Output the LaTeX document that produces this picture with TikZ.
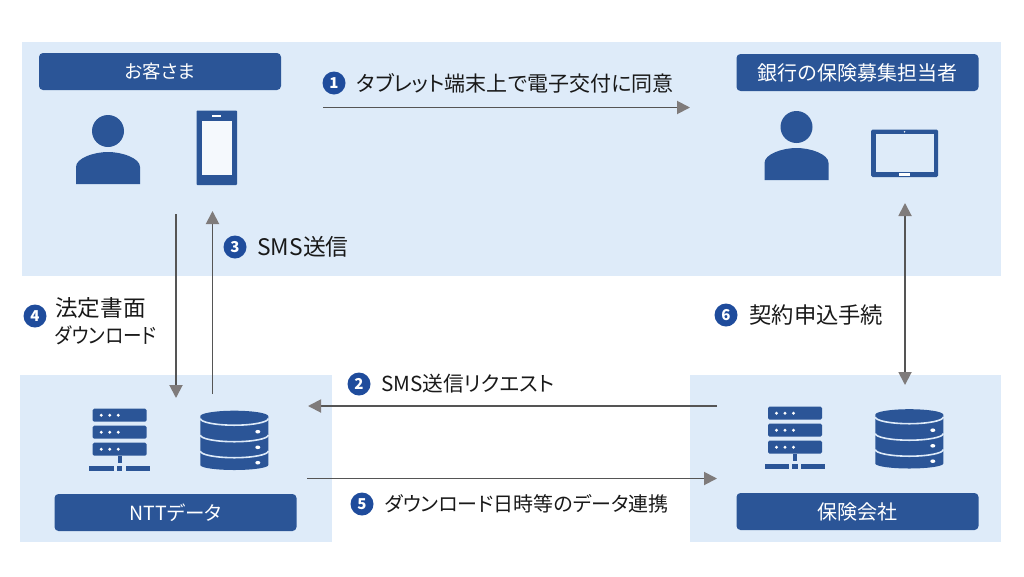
\documentclass[tikz,border=0pt]{standalone}
\usepackage{fontspec}
\setmainfont[RawFeature=+palt]{Noto Sans CJK JP}
\newfontfamily\narrowkana[RawFeature=+palt,FakeStretch=0.885]{Noto Sans CJK JP}
\usetikzlibrary{positioning,arrows.meta}
\definecolor{panelblue}{HTML}{DEEBF9}
\definecolor{iconblue}{HTML}{2B5597}
\definecolor{badgeblue}{HTML}{1F4C9C}
\definecolor{shaftgray}{HTML}{555555}
\definecolor{headgray}{HTML}{7F7B7B}
\tikzset{
    panel/.style = {fill=panelblue},
    lbl/.style = {draw=none, fill=iconblue, rounded corners=4pt, text=white, minimum width=242pt, minimum height=37pt, inner sep=0pt, font=\fontsize{20}{24}\selectfont},
    badge/.style = {circle, fill=badgeblue, text=white, minimum size=23pt, inner sep=0pt, font=\fontsize{15}{17}\bfseries\selectfont},
    steptext/.style = {inner sep=0pt, text=black!90, align=left, font=\fontsize{#1}{27}\selectfont},
    steptext/.default = 21,
    flow/.style = {draw=shaftgray, line width=1.9pt, -{Triangle[length=13pt,width=13pt,color=headgray]}},
    twoway/.style = {draw=shaftgray, line width=1.9pt, {Triangle[length=13pt,width=13pt,color=headgray]}-{Triangle[length=13pt,width=13pt,color=headgray]}},
    person/.pic = {
        \fill[iconblue] (32,-21) circle[radius=16];
        \fill[iconblue] (0,32) -- (0,15) .. controls (0,6) and (18,0) .. (32,0) .. controls (46,0) and (64,6) .. (64,15) -- (64,32) -- cycle;
    },
    serverrack/.pic = {
        \foreach \r in {0,17,34} {
            \fill[iconblue, rounded corners=1.5pt] (0,\r) rectangle (54,\r+13);
            \foreach \d in {8.5,17,25.5} \fill[white] (\d,\r+6.5) circle[radius=1.6];
        }
        \fill[iconblue] (24.8,47) rectangle (29.2,54);
        \fill[iconblue] (-3.5,57.6) rectangle (20.8,62);
        \fill[iconblue] (24.2,57.6) rectangle (29.5,62);
        \fill[iconblue] (32.8,57.6) rectangle (57.2,62);
    },
    dbstack/.pic = {
        \fill[iconblue] (0,5.5) arc[start angle=180, end angle=360, x radius=34, y radius=5.5] -- (68,54.3) arc[start angle=0, end angle=180, x radius=34, y radius=5] -- cycle;
        \foreach \r in {7.8,24.3,40.3} {
            \draw[panelblue, line width=1.6pt] (0,\r) arc[start angle=180, end angle=0, x radius=34, y radius=6.7];
        }
        \foreach \r in {21,36.6,52} \fill[white] (57.5,\r) circle[x radius=2.5, y radius=1.8];
    }
}
\begin{document}
\begin{tikzpicture}[x=1pt, y=-1pt]
    \useasboundingbox (0,0) rectangle (1024,576);

    % panels
    \fill[panel] (22,42) rectangle (1001,276);
    \fill[panel] (20,375) rectangle (332,542);
    \fill[panel] (690,375) rectangle (1001,542);

    % title bars
    \node[lbl, font=\fontsize{18.5}{22}\selectfont] (customer) at (160,71.5) {お客さま};
    \node[lbl] (agent) at (857.5,72.5) {銀行の保険募集担当者};
    \node[lbl, font=\fontsize{19.5}{23}\selectfont] (nttdata) at (175.5,512.5) {NTTデータ};
    \node[lbl] (insurer) at (857.5,511.5) {保険会社};

    % people and devices
    \pic at (76,152) {person};
    \pic at (764.5,148) {person};

    \fill[iconblue, rounded corners=0.8pt] (196.5,110.5) rectangle (237,185);
    \fill[panelblue!30!white] (201.5,120.5) rectangle (232,175);
    \fill[white] (212,114.5) rectangle (221,117);

    \fill[iconblue, rounded corners=1.5pt] (871,129.5) rectangle (938,177);
    \fill[panelblue] (875.5,134) rectangle (933.5,172);
    \fill[white] (904.5,131.8) circle[radius=0.8];
    \fill[white] (899,173.2) rectangle (909.5,175.5);

    % servers
    \pic at (92.7,408.7) {serverrack};
    \pic at (200.3,410.7) {dbstack};
    \pic at (768,406.7) {serverrack};
    \pic at (875.3,409.2) {dbstack};

    % numbered steps
    \node[badge] (b1) at (334,83) {1};
    \node[steptext, right=11pt of b1] (t1) {タブレット端末上で電子交付に同意};
    \node[badge] (b2) at (359,384) {2};
    \node[steptext=20.7, right=10.5pt of b2] (t2) {SMS送信リクエスト};
    \node[badge] (b3) at (235,247) {3};
    \node[steptext=22.8, right=10.5pt of b3] (t3) {SMS送信};
    \node[badge] (b4) at (35,316) {4};
    \node[steptext, anchor=west] (t4) at (55,321.5) {\fontsize{22.6}{27}\selectfont 法定書面\\\narrowkana\fontsize{21}{27}\selectfont ダウンロード};
    \node[badge] (b5) at (362,504) {5};
    \node[steptext=20, right=10.5pt of b5] (t5) {ダウンロード日時等のデータ連携};
    \node[badge] (b6) at (726,315) {6};
    \node[steptext=22.3, right=11.5pt of b6] (t6) {契約申込手続};

    % arrow ends
    \coordinate (a1) at (323,107.5);
    \coordinate (a2) at (690,107.5);
    \coordinate (s1) at (717,406);
    \coordinate (s2) at (308,406);
    \coordinate (m1) at (212.5,394);
    \coordinate (m2) at (212.5,211);
    \coordinate (d1) at (176,214);
    \coordinate (d2) at (176,398);
    \coordinate (l1) at (307,478.5);
    \coordinate (l2) at (717,478.5);
    \coordinate (c1) at (905,203);
    \coordinate (c2) at (905,385);

    \draw[flow] (a1) -- (a2);
    \draw[flow] (s1) -- (s2);
    \draw[flow] (m1) -- (m2);
    \draw[flow] (d1) -- (d2);
    \draw[flow] (l1) -- (l2);
    \draw[twoway] (c1) -- (c2);

\end{tikzpicture}
\end{document}
